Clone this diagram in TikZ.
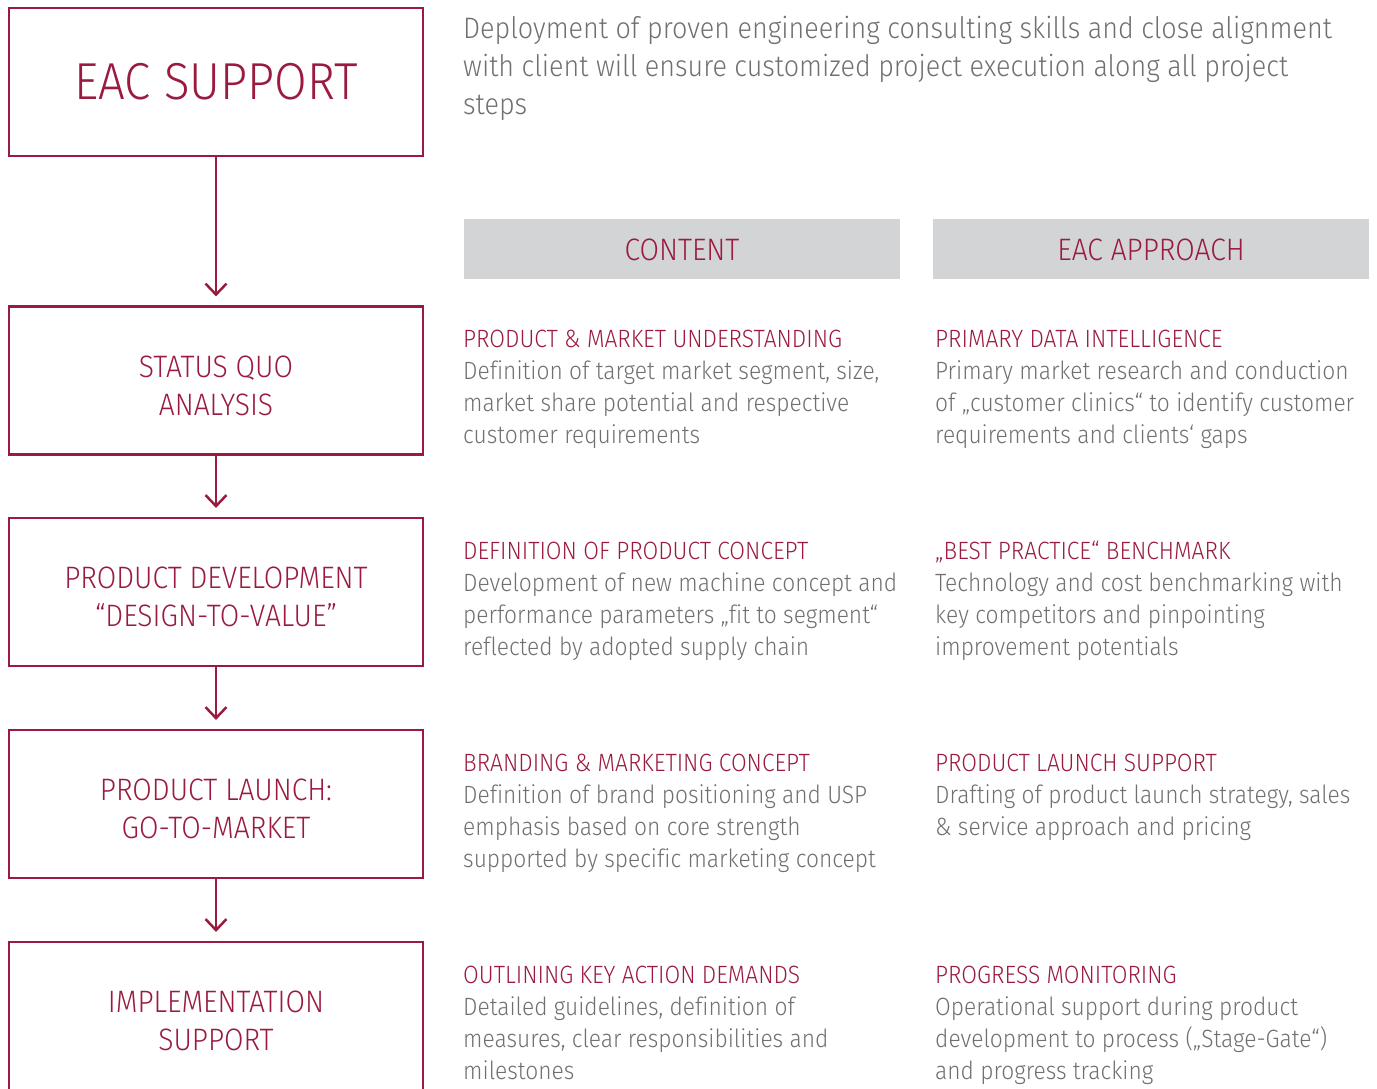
\documentclass[tikz,border=0pt]{standalone}
\usepackage{fontspec}
\setmainfont{Fira Sans}[UprightFont=* Light, FakeStretch=0.91, Ligatures=NoCommon]
\usetikzlibrary{arrows.meta}
\definecolor{eacred}{RGB}{154,27,63}
\definecolor{bodygray}{RGB}{112,112,112}
\definecolor{headgray}{RGB}{211,212,214}

\begin{document}
\begin{tikzpicture}[x=1pt,y=-1pt,
  stage/.style={draw=eacred, line width=2.2pt, minimum width=414pt, minimum height=148pt,
    text=eacred, align=center, inner sep=0pt, font=\fontsize{31}{38}\selectfont},
  stagetext/.style={text=eacred, align=center, inner sep=0pt, font=\fontsize{31}{38}\selectfont},
  flow/.style={draw=eacred, line width=2.5pt,
    -{Straight Barb[length=11pt,width=21pt,line width=2.5pt]}, shorten >=9pt},
  colhead/.style={fill=headgray, minimum width=436pt, minimum height=60pt,
    text=eacred, inner sep=0pt, font=\fontsize{31}{38}\selectfont},
  % multi-line nodes are placed by the baseline of their last line
  ttl/.style={anchor=base west, text=eacred, inner sep=0pt, font=\fontsize{25}{32}\selectfont},
  body/.style={anchor=base west, text=bodygray, inner sep=0pt, align=left,
    font=\fontsize{25}{32}\selectfont},
  intro/.style={anchor=base west, text=bodygray, inner sep=0pt, align=left,
    font=\fontsize{29.6}{38}\selectfont}]

\useasboundingbox (0,0) rectangle (1377,1088);
\clip (0,0) rectangle (1377,1088);

% process stages (frames, then their two-line captions)
\node[stage, font=\fontsize{52}{60}\selectfont] (s1) at (216,82) {EAC SUPPORT};
\node[stage] (s2) at (216,380.5) {};
\node[stage] (s3) at (216,592) {};
\node[stage] (s4) at (216,804) {};
\node[stage] (s5) at (216,1016) {};
\node[stagetext] (s2t) at ([yshift=-5pt]s2.center) {STATUS QUO\\ANALYSIS};
\node[stagetext] (s3t) at ([yshift=-5pt]s3.center) {PRODUCT DEVELOPMENT\\“DESIGN-TO-VALUE”};
\node[stagetext] (s4t) at ([yshift=-5pt]s4.center) {PRODUCT LAUNCH:\\GO-TO-MARKET};
\node[stagetext] (s5t) at ([yshift=-5pt]s5.center) {IMPLEMENTATION\\SUPPORT};

\draw[flow] (s1.south) -- (s2.north);
\draw[flow] (s2.south) -- (s3.north);
\draw[flow] (s3.south) -- (s4.north);
\draw[flow] (s4.south) -- (s5.north);

% introduction
\node[intro] (intro) at (463,114) {Deployment of proven engineering consulting skills and close alignment\\
with client will ensure customized project execution along all project\\steps};

% column headers
\node[colhead] (hcontent) at (682,249) {\rule{0pt}{24pt}CONTENT};
\node[colhead] (happroach) at (1151,249) {\rule{0pt}{24pt}EAC APPROACH};

% content column
\node[ttl] (c1t) at (463,347) {PRODUCT \& MARKET UNDERSTANDING};
\node[body] (c1b) at (463,443) {Definition of target market segment, size,\\market share potential and respective\\customer requirements};
\node[ttl] (c2t) at (463,559) {DEFINITION OF PRODUCT CONCEPT};
\node[body] (c2b) at (463,655) {Development of new machine concept and\\performance parameters „fit to segment“\\reflected by adopted supply chain};
\node[ttl] (c3t) at (463,771) {BRANDING \& MARKETING CONCEPT};
\node[body] (c3b) at (463,867) {Definition of brand positioning and USP\\emphasis based on core strength\\supported by specific marketing concept};
\node[ttl] (c4t) at (463,983) {OUTLINING KEY ACTION DEMANDS};
\node[body] (c4b) at (463,1079) {Detailed guidelines, definition of\\measures, clear responsibilities and\\milestones};

% approach column
\node[ttl] (a1t) at (935,347) {PRIMARY DATA INTELLIGENCE};
\node[body] (a1b) at (935,443) {Primary market research and conduction\\of „customer clinics“ to identify customer\\requirements and clients‘ gaps};
\node[ttl] (a2t) at (935,559) {„BEST PRACTICE“ BENCHMARK};
\node[body] (a2b) at (935,655) {Technology and cost benchmarking with\\key competitors and pinpointing\\improvement potentials};
\node[ttl] (a3t) at (935,771) {PRODUCT LAUNCH SUPPORT};
\node[body] (a3b) at (935,835) {Drafting of product launch strategy, sales\\\& service approach and pricing};
\node[ttl] (a4t) at (935,983) {PROGRESS MONITORING};
\node[body] (a4b) at (935,1079) {Operational support during product\\development to process („Stage-Gate“)\\and progress tracking};
\end{tikzpicture}
\end{document}
